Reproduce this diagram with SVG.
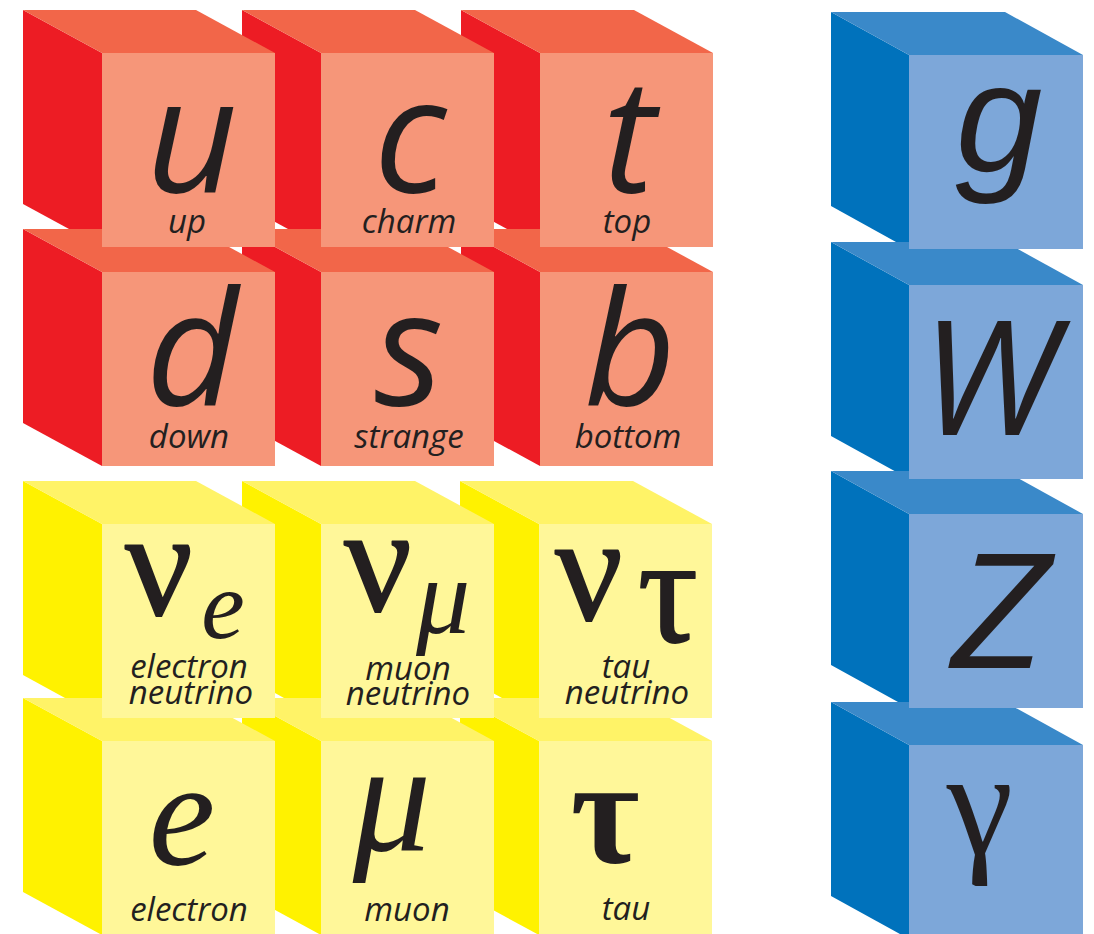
<svg xmlns="http://www.w3.org/2000/svg" width="1094" height="934" viewBox="0 0 1094 934">
<style>
.qs{fill:#ED1C24}.qt{fill:#F26649}.qf{fill:#F69679}
.ls{fill:#FFF200}.lt{fill:#FFF367}.lf{fill:#FFF799}
.bs{fill:#0072BC}.bt{fill:#3A89C9}.bf{fill:#7DA7D9}
text{fill:#231F20;text-anchor:middle}
.sym{font-family:"Open Sans","Liberation Sans",sans-serif;font-style:italic;font-size:160px}
.lbl{font-family:"Open Sans","Liberation Sans",sans-serif;font-style:italic;font-size:33px}
.grk{font-family:"Liberation Serif","DejaVu Serif",serif;font-size:150px}
.nu{stroke:#231F20;stroke-width:1.8;stroke-linejoin:round}
.bld{font-weight:bold}
.gri{font-family:"Liberation Serif","DejaVu Serif",serif;font-style:italic}
</style>
<rect width="1094" height="934" fill="#FFFFFF"/>
<g id="connectors"></g>
<!-- quarks: lower row first, right to left -->
<g id="bottom">
<polygon class="qs" points="461,229 540,272 540,466 461,423"/>
<polygon class="qt" points="461,229 634,229 713,272 540,272"/>
<rect class="qf" x="540" y="272" width="173" height="194"/>
<text class="sym" x="630" y="405">b</text>
<text class="lbl" x="628" y="448">bottom</text>
</g>
<g id="strange">
<polygon class="qs" points="242,229 321,272 321,466 242,423"/>
<polygon class="qt" points="242,229 415,229 494,272 321,272"/>
<rect class="qf" x="321" y="272" width="173" height="194"/>
<text class="sym" x="409" y="405">s</text>
<text class="lbl" x="409" y="448">strange</text>
</g>
<g id="down">
<polygon class="qs" points="23,229 102,272 102,466 23,423"/>
<polygon class="qt" points="23,229 196,229 275,272 102,272"/>
<rect class="qf" x="102" y="272" width="173" height="194"/>
<text class="sym" x="192" y="405">d</text>
<text class="lbl" x="189" y="448">down</text>
</g>
<g id="top">
<polygon class="qs" points="461,10 540,53 540,229 507,229 461,204"/>
<polygon class="qt" points="461,10 634,10 713,53 540,53"/>
<rect class="qf" x="540" y="53" width="173" height="194"/>
<text class="sym" x="629" y="192">t</text>
<text class="lbl" x="627" y="233">top</text>
</g>
<g id="charm">
<polygon class="qs" points="242,10 321,53 321,229 288,229 242,204"/>
<polygon class="qt" points="242,10 415,10 494,53 321,53"/>
<rect class="qf" x="321" y="53" width="173" height="194"/>
<text class="sym" x="410" y="192">c</text>
<text class="lbl" x="409" y="233">charm</text>
</g>
<g id="up">
<polygon class="qs" points="23,10 102,53 102,229 69,229 23,204"/>
<polygon class="qt" points="23,10 196,10 275,53 102,53"/>
<rect class="qf" x="102" y="53" width="173" height="194"/>
<text class="sym" x="192" y="192">u</text>
<text class="lbl" x="187" y="233">up</text>
</g>
<!-- leptons -->
<g id="tau">
<polygon class="ls" points="460,698 539,741 539,935 460,892"/>
<polygon class="lt" points="460,698 633,698 712,741 539,741"/>
<rect class="lf" x="539" y="741" width="173" height="194"/>
<text class="grk bld" x="605" y="863" font-size="155">τ</text>
<text class="lbl" x="626" y="920">tau</text>
</g>
<g id="muon">
<polygon class="ls" points="242,698 321,741 321,935 242,892"/>
<polygon class="lt" points="242,698 415,698 494,741 321,741"/>
<rect class="lf" x="321" y="741" width="173" height="194"/>
<text class="gri" x="392" y="850" font-size="156">μ</text>
<text class="lbl" x="407" y="921">muon</text>
</g>
<g id="electron">
<polygon class="ls" points="23,698 102,741 102,935 23,892"/>
<polygon class="lt" points="23,698 196,698 275,741 102,741"/>
<rect class="lf" x="102" y="741" width="173" height="194"/>
<text class="gri" x="182" y="865" font-size="150">e</text>
<text class="lbl" x="189" y="921">electron</text>
</g>
<g id="tau-neutrino">
<polygon class="ls" points="460,481 539,524 539,698 502,698 460,675"/>
<polygon class="lt" points="460,481 633,481 712,524 539,524"/>
<rect class="lf" x="539" y="524" width="173" height="194"/>
<text class="grk nu" x="589" y="620">ν</text>
<text class="grk nu" x="668" y="642" font-size="86">τ</text>
<text class="lbl" x="626" y="678">tau</text>
<text class="lbl" x="627" y="704">neutrino</text>
</g>
<g id="muon-neutrino">
<polygon class="ls" points="242,481 321,524 321,698 284,698 242,675"/>
<polygon class="lt" points="242,481 415,481 494,524 321,524"/>
<rect class="lf" x="321" y="524" width="173" height="194"/>
<text class="grk nu" x="378" y="611">ν</text>
<text class="gri" x="443" y="633" font-size="108">μ</text>
<text class="lbl" x="408" y="680">muon</text>
<text class="lbl" x="408" y="705">neutrino</text>
</g>
<g id="electron-neutrino">
<polygon class="ls" points="23,481 102,524 102,698 65,698 23,675"/>
<polygon class="lt" points="23,481 196,481 275,524 102,524"/>
<rect class="lf" x="102" y="524" width="173" height="194"/>
<text class="grk nu" x="159" y="615">ν</text>
<text class="gri" x="223" y="638" font-size="98">e</text>
<text class="lbl" x="189" y="678">electron</text>
<text class="lbl" x="191" y="704">neutrino</text>
</g>
<!-- bosons: bottom to top -->
<g id="photon">
<polygon class="bs" points="831,702 909,745 909,939 831,896"/>
<polygon class="bt" points="831,702 1005,702 1083,745 909,745"/>
<rect class="bf" x="909" y="745" width="174" height="194"/>
<text class="grk" x="980" y="854">γ</text>
</g>
<g id="Z">
<polygon class="bs" points="831,471 909,514 909,702 898,702 831,665"/>
<polygon class="bt" points="831,471 1005,471 1083,514 909,514"/>
<rect class="bf" x="909" y="514" width="174" height="194"/>
<text class="sym" transform="translate(999,668) scale(1.15,1)">Z</text>
</g>
<g id="W">
<polygon class="bs" points="831,242 909,285 909,471 894.5,471 831,436"/>
<polygon class="bt" points="831,242 1005,242 1083,285 909,285"/>
<rect class="bf" x="909" y="285" width="174" height="194"/>
<text class="sym" x="989" y="435">W</text>
</g>
<g id="gluon">
<polygon class="bs" points="831,12 909,55 909,242 896,242 831,206"/>
<polygon class="bt" points="831,12 1005,12 1083,55 909,55"/>
<rect class="bf" x="909" y="55" width="174" height="194"/>
<text x="999" y="172" font-family="'Liberation Sans',Arial,sans-serif" font-style="italic" font-size="156">g</text>
</g>
</svg>
